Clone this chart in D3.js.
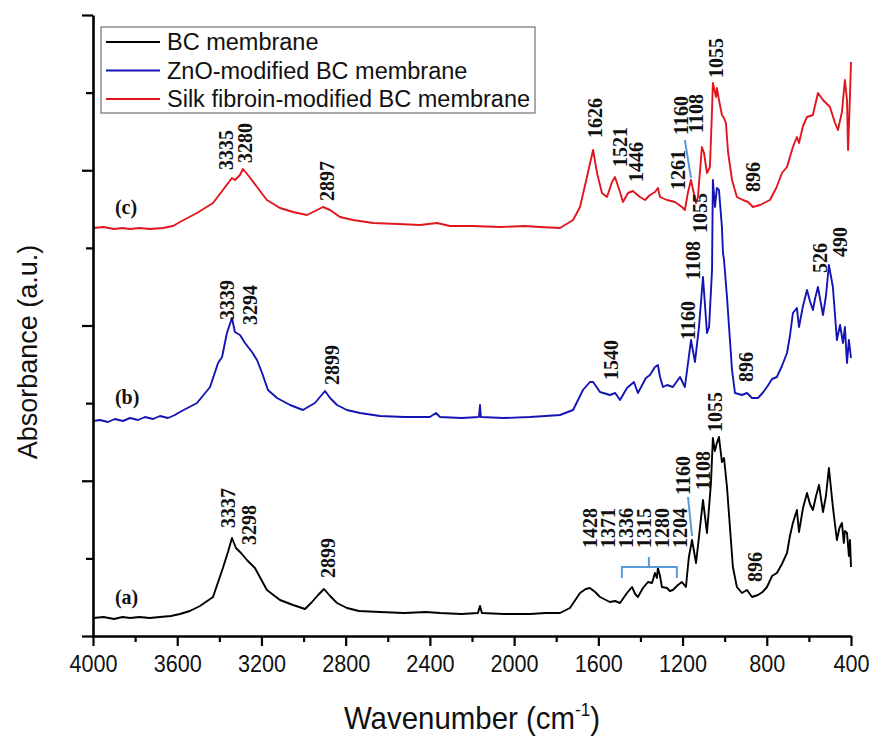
<!DOCTYPE html>
<html><head><meta charset="utf-8">
<script src="https://cdn.jsdelivr.net/npm/d3@7"></script>
<style>body{margin:0;background:#fff} svg{display:block}</style>
</head><body>
<svg id="chart" width="874" height="738"></svg>
<script>
// ---------- data (wavenumber cm-1, absorbance a.u. with vertical offsets) ----------
const xMajorTicks = [4000,3600,3200,2800,2400,2000,1600,1200,800,400];
const xMinorTicks = [3800,3400,3000,2600,2200,1800,1400,1000,600];
const yMajorTicks = [0,155.25,310.5,465.75,621];
const yMinorTicks = [77.625,232.875,388.125,543.375];

const seriesNames = ["BC membrane","ZnO-modified BC membrane","Silk fibroin-modified BC membrane"];
const seriesColors = ["#000000","#1414b4","#e0161e"];
const curveTags = ["(a)","(b)","(c)"];
const curveTagPos = [[3896,32],[3896,232],[3896,422]];

const bcData = [[4000,18],[3950,19],[3900,17],[3860,19],[3824,18],[3780,19],[3730,18],[3682,19],[3630,20],[3587,22],[3540,25],[3492,30],[3430,39],[3383,68],[3359,84],[3340,98],[3321,88],[3297,83],[3269,76],[3231,68],[3174,46],[3112,36],[3050,31],[2993,27],[2960,34],[2931,41],[2903,47],[2874,40],[2841,33],[2794,28],[2737,25],[2637,24],[2520,23],[2420,24],[2352,23],[2250,22],[2172,23],[2162,30],[2153,23],[2050,22],[1925,22],[1850,23],[1782,23],[1735,28],[1687,43],[1660,47],[1640,48],[1615,44],[1592,39],[1545,34],[1520,35],[1497,33],[1464,43],[1440,49],[1425,42],[1412,39],[1388,48],[1364,54],[1345,53],[1331,63],[1322,58],[1317,68],[1307,60],[1298,49],[1274,48],[1260,45],[1246,46],[1222,51],[1203,54],[1184,49],[1170,79],[1155,96],[1136,73],[1122,99],[1103,136],[1084,103],[1065,153],[1056,198],[1047,185],[1037,193],[1027,199],[1013,174],[1003,178],[989,149],[975,109],[961,69],[942,49],[918,43],[894,46],[870,39],[842,41],[820,44],[799,49],[775,60],[752,63],[728,72],[704,83],[690,100],[676,113],[657,126],[647,104],[628,128],[609,143],[595,132],[581,126],[566,140],[552,151],[533,124],[519,140],[505,168],[486,129],[467,96],[455,108],[443,113],[434,93],[429,105],[419,103],[410,80],[405,96],[400,69]];

const znoData = [[4000,215],[3967,216],[3929,214],[3896,217],[3858,215],[3824,218],[3786,216],[3753,219],[3715,217],[3682,220],[3644,218],[3611,221],[3587,224],[3506,233],[3444,249],[3406,273],[3387,279],[3364,303],[3340,318],[3326,304],[3302,301],[3278,293],[3245,284],[3221,276],[3197,263],[3169,246],[3126,238],[3064,231],[3003,226],[2979,229],[2946,233],[2922,239],[2898,245],[2874,238],[2841,231],[2794,226],[2732,223],[2637,220],[2520,219],[2400,219],[2371,223],[2352,219],[2250,218],[2167,219],[2162,231],[2158,219],[2050,218],[1925,219],[1850,220],[1782,221],[1720,226],[1673,246],[1640,254],[1625,254],[1592,244],[1545,241],[1520,243],[1497,236],[1464,248],[1431,254],[1412,243],[1374,258],[1355,261],[1331,269],[1317,271],[1307,259],[1293,249],[1274,251],[1246,249],[1212,259],[1189,249],[1174,273],[1160,296],[1141,274],[1122,309],[1103,359],[1084,303],[1074,309],[1060,366],[1056,456],[1046,429],[1037,448],[1027,446],[1013,409],[1008,383],[1003,376],[989,339],[975,296],[965,266],[951,243],[918,241],[894,243],[870,238],[842,238],[820,243],[799,249],[775,257],[752,259],[728,270],[704,283],[690,300],[676,323],[657,328],[647,309],[628,330],[609,346],[595,335],[581,326],[570,338],[557,349],[533,321],[519,340],[505,371],[486,349],[467,296],[452,311],[438,293],[429,309],[419,273],[410,296],[400,278]];

const silkData = [[4000,408],[3950,409],[3900,407],[3860,408],[3824,407],[3780,408],[3730,407],[3668,408],[3620,410],[3587,414],[3506,423],[3430,433],[3383,446],[3340,458],[3326,456],[3302,461],[3288,467],[3264,461],[3221,449],[3174,436],[3112,428],[3050,424],[2984,421],[2936,426],[2908,429],[2874,426],[2827,419],[2765,416],[2670,413],[2550,412],[2447,411],[2366,413],[2305,410],[2200,410],[2067,409],[1950,410],[1877,409],[1782,408],[1720,416],[1687,429],[1654,459],[1625,486],[1606,463],[1583,443],[1559,439],[1535,454],[1521,459],[1497,444],[1483,434],[1459,443],[1436,445],[1402,439],[1378,436],[1355,441],[1331,444],[1317,448],[1307,439],[1274,436],[1236,434],[1203,429],[1189,426],[1174,444],[1160,456],[1150,446],[1136,433],[1127,439],[1108,489],[1098,483],[1084,463],[1070,469],[1060,526],[1056,553],[1041,539],[1037,548],[1027,536],[1013,521],[1003,518],[994,513],[984,484],[965,456],[942,439],[913,436],[889,434],[866,429],[832,431],[785,436],[755,448],[728,463],[704,469],[676,489],[657,499],[647,493],[628,510],[609,519],[581,521],[557,543],[533,536],[500,529],[476,513],[462,506],[443,524],[429,556],[419,536],[414,486],[410,509],[405,539],[400,574]];

// peak annotations: label, anchor wavenumber, anchor absorbance (bottom of rotated label)
const bcPeaks = [
  {label:"3337",w:3326,v:108},{label:"3298",w:3226,v:91},{label:"2899",w:2851,v:58},
  {label:"1428",w:1606,v:88},{label:"1371",w:1521,v:88},{label:"1336",w:1436,v:88},
  {label:"1315",w:1350,v:88},{label:"1280",w:1265,v:88},{label:"1204",w:1179,v:88},
  {label:"1160",w:1165,v:141},{label:"1108",w:1070,v:146},{label:"1055",w:1013,v:204},
  {label:"896",w:823,v:54}];
const znoPeaks = [
  {label:"3339",w:3330,v:316},{label:"3294",w:3221,v:311},{label:"2899",w:2832,v:251},
  {label:"1540",w:1507,v:256},{label:"1160",w:1141,v:296},{label:"1108",w:1117,v:356},
  {label:"1055",w:1084,v:403},{label:"896",w:866,v:254},{label:"526",w:514,v:363},
  {label:"490",w:419,v:379}];
const silkPeaks = [
  {label:"3335",w:3335,v:466},{label:"3280",w:3245,v:473},{label:"2897",w:2855,v:435},
  {label:"1626",w:1583,v:498},{label:"1521",w:1464,v:469},{label:"1446",w:1388,v:454},
  {label:"1261",w:1189,v:446},{label:"1160",w:1174,v:501},{label:"1108",w:1103,v:503},
  {label:"1055",w:1008,v:558},{label:"896",w:832,v:444}];
const leaders = [[[1189,496],[1160,458]],[[1174,139],[1155,100]]];
const bracket = [[1488,58],[1488,69],[1227,69],[1227,58]];
const bracketStem = [[1360,69],[1360,79]];

// ---------- drawing ----------
const svg = d3.select("#chart");
const margin = {left:93, right:23, top:15, bottom:102};
const W = 874, H = 738;
const x = d3.scaleLinear().domain([4000,400]).range([margin.left, W - margin.right]);
const y = d3.scaleLinear().domain([0,621]).range([H - margin.bottom, margin.top]);

const line = d3.line().x(d => x(d[0])).y(d => y(d[1]));
[bcData, znoData, silkData].forEach((data,i) => {
  svg.append("path").datum(data).attr("d", line)
    .attr("fill","none").attr("stroke", seriesColors[i])
    .attr("stroke-width",1.9).attr("stroke-linejoin","round");
});

// axes
const sans = "'Liberation Sans', Arial, sans-serif";
const gx = svg.append("g").attr("transform",`translate(0,${y(0)})`)
  .call(d3.axisBottom(x).tickValues(xMajorTicks).tickSize(10).tickSizeOuter(0).tickFormat(d3.format("d")));
gx.select(".domain").attr("stroke-width",2.6);
gx.selectAll(".tick line").attr("stroke-width",2.2);
gx.selectAll(".tick text").attr("font-family",sans).attr("font-size",24).attr("fill","#111")
  .attr("y",0).attr("dy",null).attr("transform","translate(0,36) scale(0.9,1)");
const gx2 = svg.append("g").attr("transform",`translate(0,${y(0)})`)
  .call(d3.axisBottom(x).tickValues(xMinorTicks).tickSize(6).tickSizeOuter(0).tickFormat(""));
gx2.select(".domain").remove();
gx2.selectAll(".tick line").attr("stroke-width",2.2);

const gy = svg.append("g").attr("transform",`translate(${x(4000)},0)`)
  .call(d3.axisLeft(y).tickValues(yMajorTicks).tickSize(11).tickSizeOuter(0).tickFormat(""));
gy.select(".domain").attr("stroke-width",2.6);
gy.selectAll(".tick line").attr("stroke-width",2.2);
const gy2 = svg.append("g").attr("transform",`translate(${x(4000)},0)`)
  .call(d3.axisLeft(y).tickValues(yMinorTicks).tickSize(7).tickSizeOuter(0).tickFormat(""));
gy2.select(".domain").remove();
gy2.selectAll(".tick line").attr("stroke-width",2.2);

// axis titles
const xt = svg.append("text").attr("transform",`translate(${(x(4000)+x(400))/2},729) scale(0.95,1)`)
  .attr("text-anchor","middle").attr("font-family",sans).attr("font-size",31).attr("fill","#111");
xt.append("tspan").text("Wavenumber (cm");
xt.append("tspan").text("-1").attr("font-size",18).attr("dy",-13);
xt.append("tspan").text(")").attr("dy",13);
svg.append("text").attr("transform",`translate(37,352) rotate(-90)`)
  .attr("text-anchor","middle").attr("font-family",sans).attr("font-size",27).attr("fill","#111")
  .text("Absorbance (a.u.)");

// peak labels
const serif = "'Liberation Serif','Times New Roman',serif";
[bcPeaks, znoPeaks, silkPeaks].forEach(list => {
  svg.append("g").selectAll("text").data(list).join("text")
    .attr("transform", d => `translate(${x(d.w)},${y(d.v)}) rotate(-90)`)
    .attr("font-family",serif).attr("font-weight","bold").attr("font-size",20).attr("fill","#111")
    .text(d => d.label);
});
// curve tags
svg.append("g").selectAll("text").data(curveTags).join("text")
  .attr("x",(d,i)=>x(curveTagPos[i][0])).attr("y",(d,i)=>y(curveTagPos[i][1]))
  .attr("font-family",serif).attr("font-weight","bold").attr("font-size",20).attr("fill","#111")
  .text(d=>d);

// leader lines & bracket
const ann = "#5b9bd5";
leaders.forEach(l => svg.append("path").datum(l).attr("d",line).attr("stroke",ann).attr("stroke-width",2).attr("fill","none"));
svg.append("path").datum(bracket).attr("d",line).attr("stroke",ann).attr("stroke-width",2).attr("fill","none");
svg.append("path").datum(bracketStem).attr("d",line).attr("stroke",ann).attr("stroke-width",2).attr("fill","none");

// legend
const lg = svg.append("g");
lg.append("rect").attr("x",101).attr("y",27).attr("width",434).attr("height",86)
  .attr("fill","#fff").attr("stroke","#555").attr("stroke-width",1);
seriesNames.forEach((n,i) => {
  const yy = 42 + i*28.5;
  lg.append("line").attr("x1",106).attr("x2",160).attr("y1",yy).attr("y2",yy)
    .attr("stroke",seriesColors[i]).attr("stroke-width",2);
  lg.append("text").attr("x",167).attr("y",yy+8).attr("font-family",sans).attr("font-size",23.5)
    .attr("fill","#111").text(n);
});
</script>
</body></html>
